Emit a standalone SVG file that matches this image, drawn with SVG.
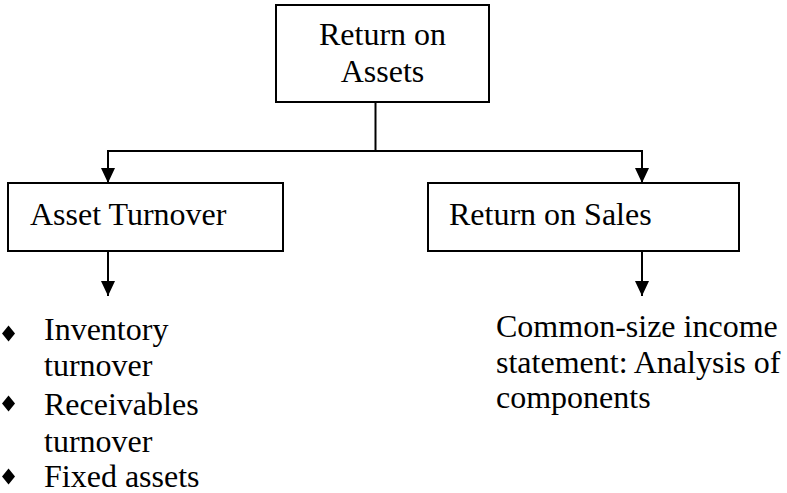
<svg xmlns="http://www.w3.org/2000/svg" width="787" height="493" viewBox="0 0 787 493">
<defs>
<style>
.box{fill:#fff;stroke:#000;stroke-width:2}
.t{font-family:'Liberation Serif',Tinos,'Times New Roman','DejaVu Serif',serif;font-size:32px;fill:#000}
.c{fill:none;stroke:#000;stroke-width:2}
.b{fill:#000}
</style>
<marker id="ah" viewBox="0 0 15 14" refX="15" refY="7" markerWidth="15" markerHeight="14" markerUnits="userSpaceOnUse" orient="auto">
<path d="M0,0 L15,7 L0,14 Z" fill="#000"/>
</marker>
</defs>
<rect width="787" height="493" fill="#fff"/>
<g id="connectors">
<path class="c" d="M375.5,102 V151"/>
<path class="c" d="M108,170 V151 H642 V170"/>
<path class="c" d="M108,165 V183" marker-end="url(#ah)"/>
<path class="c" d="M642,165 V183" marker-end="url(#ah)"/>
<path class="c" d="M108,251 V296" marker-end="url(#ah)"/>
<path class="c" d="M642,251 V296" marker-end="url(#ah)"/>
</g>
<g id="roa">
<rect class="box" x="276" y="5" width="213" height="97"/>
<text class="t" x="382.5" y="45" text-anchor="middle">Return on</text>
<text class="t" x="382.5" y="82" text-anchor="middle">Assets</text>
</g>
<g id="asset-turnover">
<rect class="box" x="8" y="183" width="275" height="68"/>
<text class="t" x="30" y="225">Asset Turnover</text>
</g>
<g id="return-on-sales">
<rect class="box" x="428" y="183" width="311" height="68"/>
<text class="t" x="449" y="225">Return on Sales</text>
</g>
<g id="asset-list">
<path class="b" d="M8.5,325.5 L15,333.5 L8.5,341.5 L2,333.5 Z"/>
<text class="t" x="44" y="340">Inventory</text>
<text class="t" x="44" y="376">turnover</text>
<path class="b" d="M8.5,395.5 L15,403.5 L8.5,411.5 L2,403.5 Z"/>
<text class="t" x="44" y="415">Receivables</text>
<text class="t" x="44" y="452">turnover</text>
<path class="b" d="M8.5,468.5 L15,476.5 L8.5,484.5 L2,476.5 Z"/>
<text class="t" x="44" y="487">Fixed assets</text>
</g>
<g id="sales-text">
<text class="t" x="496" y="337">Common-size income</text>
<text class="t" x="496" y="373">statement: Analysis of</text>
<text class="t" x="496" y="408">components</text>
</g>
</svg>
